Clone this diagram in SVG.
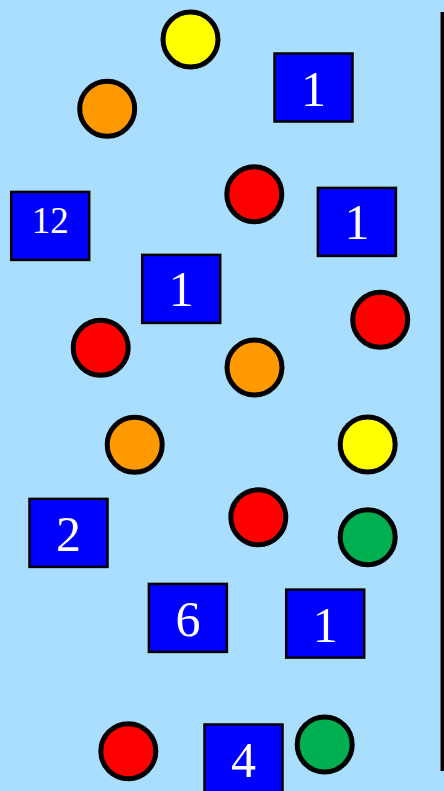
<svg xmlns="http://www.w3.org/2000/svg" width="444" height="791" viewBox="0 0 444 791">
<style>
.c{stroke:#000;stroke-width:5}
.r{fill:#0000FF;stroke:#000;stroke-width:2.5}
.t{fill:#fff;font-family:"Liberation Serif","Times New Roman",serif;font-size:50px;text-anchor:middle}
.s{font-size:37px}
.red{fill:#FF0000}.org{fill:#FF9900}.yel{fill:#FFFF00}.grn{fill:#00B050}
</style>
<rect x="0" y="0" width="444" height="791" fill="#A9DEFE"/>
<g id="connectors"><line x1="442.3" y1="12" x2="442.3" y2="771" stroke="#000" stroke-width="3.5"/></g>
<g id="c1"><circle class="c yel" cx="190.5" cy="39.5" r="27.5"/></g>
<g id="c2"><circle class="c org" cx="107.2" cy="108.7" r="27.5"/></g>
<g id="n1"><rect class="r" x="274.5" y="53.5" width="78" height="68"/><text class="t" x="313.5" y="106">1</text></g>
<g id="c3"><circle class="c red" cx="254.3" cy="194.2" r="27.5"/></g>
<g id="n2"><rect class="r" x="11.2" y="191.9" width="78" height="68"/><text class="t s" x="50.2" y="233.3">12</text></g>
<g id="n3"><rect class="r" x="317.9" y="187.9" width="78" height="68"/><text class="t" x="356.9" y="239.3">1</text></g>
<g id="n4"><rect class="r" x="142.2" y="254.9" width="78" height="68"/><text class="t" x="181.2" y="306">1</text></g>
<g id="c4"><circle class="c red" cx="100.7" cy="347.7" r="27.5"/></g>
<g id="c5"><circle class="c org" cx="254.5" cy="367.5" r="27.5"/></g>
<g id="c6"><circle class="c red" cx="380.2" cy="319.7" r="27.5"/></g>
<g id="c7"><circle class="c org" cx="134.7" cy="444.7" r="27.5"/></g>
<g id="c8"><circle class="c yel" cx="367.7" cy="444.5" r="27.5"/></g>
<g id="n5"><rect class="r" x="29.5" y="498.9" width="78" height="68"/><text class="t" x="68.5" y="550.7">2</text></g>
<g id="c9"><circle class="c red" cx="258.3" cy="517.3" r="27.5"/></g>
<g id="c10"><circle class="c grn" cx="367.7" cy="537.2" r="27.5"/></g>
<g id="n6"><rect class="r" x="148.9" y="583.9" width="78" height="68"/><text class="t" x="187.9" y="636">6</text></g>
<g id="n7"><rect class="r" x="286.2" y="589.6" width="78" height="68"/><text class="t" x="325.2" y="641.7">1</text></g>
<g id="c11"><circle class="c red" cx="128.3" cy="751.2" r="27.5"/></g>
<g id="n8"><rect class="r" x="204.5" y="724.5" width="78" height="68"/><text class="t" x="243.5" y="776.7">4</text></g>
<g id="c12"><circle class="c grn" cx="324.7" cy="744.5" r="27.5"/></g>
</svg>
